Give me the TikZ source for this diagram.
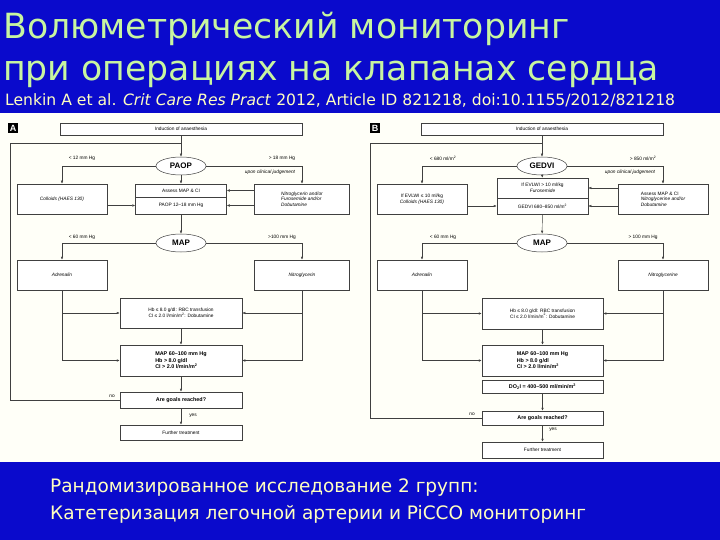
\documentclass[tikz,border=0pt]{standalone}
\usepackage{fontspec}
\setmainfont{DejaVu Sans}
\newfontfamily\fig{Liberation Sans}
\usetikzlibrary{shapes.geometric,arrows.meta}
\definecolor{slideblue}{HTML}{0A0ACC}
\definecolor{titlegreen}{HTML}{C8F5A0}
\definecolor{paleyel}{HTML}{FFFFC0}
\definecolor{figbg}{HTML}{FFFFF8}
\newcommand{\sq}{\textsuperscript{2}}
\begin{document}
\begin{tikzpicture}[x=1pt,y=-1pt,
  bx/.style={draw=black!75,line width=0.5pt,fill=white,inner sep=1pt,font=\fig\fontsize{4.8}{5.6}\selectfont,align=center},
  el/.style={ellipse,draw=black!75,line width=0.5pt,fill=white,minimum width=50pt,minimum height=18pt,font=\fig\bfseries\fontsize{8}{9}\selectfont},
  lbl/.style={font=\fig\fontsize{4.8}{5.6}\selectfont,inner sep=0.5pt},
  ln/.style={draw=black!75,line width=0.45pt},
  ar/.style={ln,-{Latex[length=3pt,width=2.5pt]}},
  bb/.style={font=\fig\bfseries\fontsize{5.4}{6.4}\selectfont},
  panel/.style={fill=black,text=white,font=\fig\bfseries\fontsize{9}{9}\selectfont,inner sep=1.5pt}]
\useasboundingbox (0,0) rectangle (720,540);
\fill[slideblue] (0,0) rectangle (720,540);
\fill[figbg] (0,113) rectangle (720,462);
% title
\node[anchor=base west,text=titlegreen,font=\fontsize{34.7}{34.7}\selectfont,inner sep=0] (t1) at (3,39) {Волюметрический мониторинг};
\node[anchor=base west,text=titlegreen,font=\fontsize{34.7}{34.7}\selectfont,inner sep=0] (t2) at (3,81) {при операциях на клапанах сердца};
\node[anchor=base west,text=paleyel,font=\fontsize{15.6}{15.6}\selectfont,inner sep=0] (cit) at (5,106) {Lenkin A et al. \textit{Crit Care Res Pract} 2012, Article ID 821218, doi:10.1155/2012/821218};
\node[anchor=base west,text=paleyel,font=\fontsize{18.5}{18.5}\selectfont,inner sep=0] (b1) at (50,492) {Рандомизированное исследование 2 групп:};
\node[anchor=base west,text=paleyel,font=\fontsize{18.5}{18.5}\selectfont,inner sep=0] (b2) at (50,519) {Катетеризация легочной артерии и PiCCO мониторинг};

% ===== Panel A =====
\node[panel] (pA) at (13,128) {A};
\node[bx,minimum width=242pt,minimum height=12pt] (iA) at (181,129) {Induction of anaesthesia};
\node[el] (paop) at (181,166) {PAOP};
\node[bx,minimum width=90pt,minimum height=30pt] (colA) at (62,199) {\itshape Colloids (HAES 130)};
\node[bx,minimum width=95pt,minimum height=30pt,align=left] (ntgA) at (302,199) {\itshape Nitroglycerin and/or\\\itshape Furosemide and/or\\\itshape Dobutamine};
\node[bx,minimum width=91pt,minimum height=13pt] (asA) at (181,190.5) {Assess MAP \& CI};
\node[bx,minimum width=91pt,minimum height=17pt] (p12) at (181,205.5) {PAOP 12–18 mm Hg};
\node[el] (mapA) at (181,243) {MAP};
\node[bx,minimum width=90pt,minimum height=30pt] (adrA) at (62,275) {\itshape Adrenalin};
\node[bx,minimum width=95pt,minimum height=30pt] (ntA) at (302,275) {\itshape Nitroglycerin};
\node[bx,minimum width=122pt,minimum height=30pt] (hbA) at (181,313) {Hb ≤ 8.0 g/dl: RBC transfusion\\CI ≤ 2.0 l/min/m\sq: Dobutamine};
\node[bx,bb,minimum width=122pt,minimum height=31pt,align=left] (gA) at (181,360.5) {MAP 60–100 mm Hg\\Hb > 8.0 g/dl\\CI > 2.0 l/min/m\sq};
\node[bx,bb,minimum width=122pt,minimum height=16pt] (arA) at (181,400) {Are goals reached?};
\node[bx,minimum width=122pt,minimum height=15pt] (ftA) at (181,432.5) {Further treatment};
\coordinate (cA1) at (10,400); \coordinate (cA2) at (10,143);
\draw[ar] (iA) -- (paop);
\draw[ln] (arA.west) -- (cA1) -- (cA2) -- (181,143);
\draw[ar] (paop.west) -| (colA.north);
\draw[ar] (paop.east) -| (ntgA.north);
\node[lbl] (lA1) at (82,158) {< 12 mm Hg};
\node[lbl] (lA2) at (282,158) {> 18 mm Hg};
\node[lbl,font=\fig\itshape\fontsize{4.8}{5.6}\selectfont] (lA3) at (270,172) {upon clinical judgement};
\draw[ar] (paop) -- (asA);
\draw[ar] (ntgA.west |- asA) -- (asA);
\draw[ar] (ntgA.west |- p12) -- (p12);
\draw[ar] (colA.east |- p12) -- (p12);
\draw[ar] (p12) -- (mapA);
\draw[ar] (mapA.west) -| (adrA.north);
\draw[ar] (mapA.east) -| (ntA.north);
\node[lbl] (lA4) at (82,237) {< 60 mm Hg};
\node[lbl] (lA5) at (282,237) {>100 mm Hg};
\draw[ar] (adrA.south) |- (hbA.west);
\draw[ar] (adrA.south) |- (gA.west);
\draw[ar] (ntA.south) |- (hbA.east);
\draw[ar] (ntA.south) |- (gA.east);
\draw[ar] (hbA) -- (gA);
\draw[ar] (gA) -- (arA);
\draw[ar] (arA) -- (ftA);
\node[lbl] (nA) at (112,396) {no};
\node[lbl] (yA) at (193,416) {yes};

% ===== Panel B =====
\node[panel] (pB) at (375,128) {B};
\node[bx,minimum width=242pt,minimum height=12pt] (iB) at (542,129) {Induction of anaesthesia};
\node[el] (ged) at (542,166) {GEDVI};
\node[bx,minimum width=90pt,minimum height=30pt] (colB) at (422,199) {If EVLWI ≤ 10 ml/kg\\\itshape Colloids (HAES 130)};
\node[bx,minimum width=90pt,minimum height=30pt,align=left] (ntgB) at (663,199) {Assess MAP \& CI\\\itshape Nitroglycerine and/or\\\itshape Dobutamine};
\node[bx,minimum width=91pt,minimum height=20pt] (evB) at (542.5,188) {If EVLWI > 10 ml/kg\\\itshape Furosemide};
\node[bx,minimum width=91pt,minimum height=16pt] (g68) at (542.5,206) {GEDVI 680–850 ml/m\sq};
\node[el] (mapB) at (542,243) {MAP};
\node[bx,minimum width=90pt,minimum height=30pt] (adrB) at (422,275) {\itshape Adrenalin};
\node[bx,minimum width=90pt,minimum height=30pt] (ntB) at (663,275) {\itshape Nitroglycerine};
\node[bx,minimum width=121pt,minimum height=31pt] (hbB) at (542.5,313.5) {Hb ≤ 8.0 g/dl: RBC transfusion\\CI ≤ 2.0 l/min/m\sq: Dobutamine};
\node[bx,bb,minimum width=121pt,minimum height=31pt,align=left] (gB) at (542.5,360.5) {MAP 60–100 mm Hg\\Hb > 8.0 g/dl\\CI > 2.0 l/min/m\sq};
\node[bx,bb,minimum width=121pt,minimum height=13pt] (doB) at (542.5,386.5) {DO\textsubscript{2}I = 400–500 ml/min/m\sq};
\node[bx,bb,minimum width=121pt,minimum height=14pt] (arB) at (542.5,418) {Are goals reached?};
\node[bx,minimum width=121pt,minimum height=16pt] (ftB) at (542.5,450) {Further treatment};
\coordinate (cB1) at (370,418); \coordinate (cB2) at (370,143);
\draw[ar] (iB) -- (ged);
\draw[ln] (arB.west) -- (cB1) -- (cB2) -- (542,143);
\draw[ar] (ged.west) -| (colB.north);
\draw[ar] (ged.east) -| (ntgB.north);
\node[lbl] (lB1) at (443,158) {< 680 ml/m\sq};
\node[lbl] (lB2) at (643,158) {> 850 ml/m\sq};
\node[lbl,font=\fig\itshape\fontsize{4.8}{5.6}\selectfont] (lB3) at (630,172) {upon clinical judgement};
\draw[ar] (ged) -- (evB);
\draw[ar] (ntgB.west |- evB) -- (evB);
\draw[ar] (ntgB.west |- g68) -- (g68);
\draw[ar] (colB.east |- g68) -- (g68);
\draw[ar] (g68) -- (mapB);
\draw[ar] (mapB.west) -| (adrB.north);
\draw[ar] (mapB.east) -| (ntB.north);
\node[lbl] (lB4) at (443,237) {< 60 mm Hg};
\node[lbl] (lB5) at (643,237) {> 100 mm Hg};
\draw[ar] (adrB.south) |- (hbB.west);
\draw[ar] (adrB.south) |- (gB.west);
\draw[ar] (ntB.south) |- (hbB.east);
\draw[ar] (ntB.south) |- (gB.east);
\draw[ar] (hbB) -- (gB);
\draw[ar] (doB) -- (arB);
\draw[ar] (arB) -- (ftB);
\node[lbl] (nB) at (472,414) {no};
\node[lbl] (yB) at (553,430) {yes};
\end{tikzpicture}
\end{document}
